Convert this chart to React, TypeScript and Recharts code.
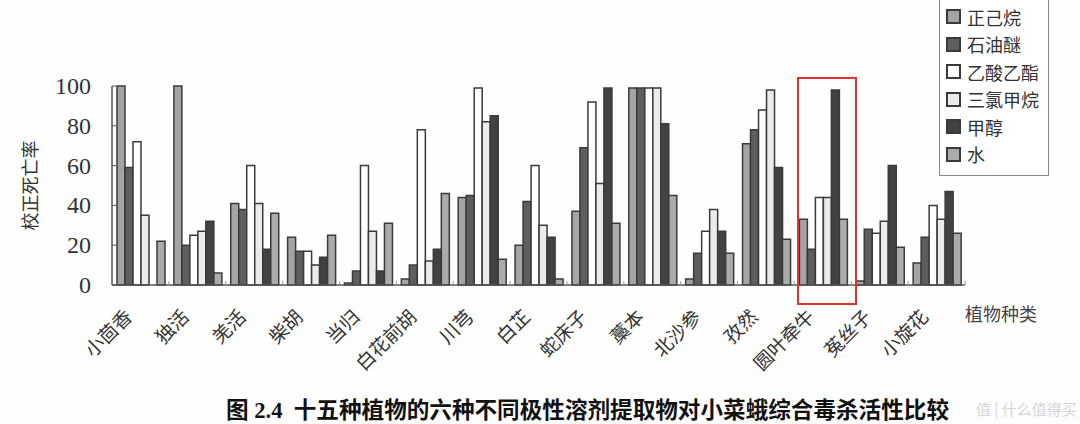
import { BarChart, Bar, XAxis, YAxis, Legend } from "recharts";

const plants = ["小茴香", "独活", "羌活", "柴胡", "当归", "白花前胡", "川芎", "白芷", "蛇床子", "藁本", "北沙参", "孜然", "圆叶牵牛", "菟丝子", "小旋花"];
const hexane = [100, 100, 41, 24, 1, 3, 44, 20, 37, 99, 3, 71, 33, 2, 11];
const petroleumEther = [59, 20, 38, 17, 7, 10, 45, 42, 69, 99, 16, 78, 18, 28, 24];
const ethylAcetate = [72, 25, 60, 17, 60, 78, 99, 60, 92, 99, 27, 88, 44, 26, 40];
const chloroform = [35, 27, 41, 10, 27, 12, 82, 30, 51, 99, 38, 98, 44, 32, 33];
const methanol = [0, 32, 18, 14, 7, 18, 85, 24, 99, 81, 27, 59, 98, 60, 47];
const water = [22, 6, 36, 25, 31, 46, 13, 3, 31, 45, 16, 23, 33, 19, 26];
const yTicks = [0, 20, 40, 60, 80, 100];

const data = plants.map((name, i) => ({
  name,
  正己烷: hexane[i],
  石油醚: petroleumEther[i],
  乙酸乙酯: ethylAcetate[i],
  三氯甲烷: chloroform[i],
  甲醇: methanol[i],
  水: water[i],
}));

const series = [
  { key: "正己烷", fill: "#a4a4a4" },
  { key: "石油醚", fill: "#5e5e5e" },
  { key: "乙酸乙酯", fill: "#ffffff" },
  { key: "三氯甲烷", fill: "#ebebeb" },
  { key: "甲醇", fill: "#424242" },
  { key: "水", fill: "#ababab" },
];
const seriesOrder = series.map((s) => s.key);

const W = 1080;
const H = 424;
const MARGIN = { top: 86, right: 115, left: 0, bottom: 0 };
const Y_W = 112;
const X_H = 139;
const BAND = (W - MARGIN.right - Y_W) / plants.length;

const FONT = "'Liberation Serif', 'Noto Sans CJK SC', serif";
const INK = "#333";

const PlantTick = ({ x, y, payload }: any) => {
  const ax = x - 7;
  const ay = y + 33;
  return (
    <g>
      <line x1={x + BAND / 2} x2={x + BAND / 2} y1={y} y2={y - 4} stroke="#999" strokeWidth={1} />
      <text x={ax} y={ay} transform={`rotate(-45 ${ax} ${ay})`} textAnchor="end" fontSize={19} fill={INK} fontFamily={FONT}>
        {payload.value}
      </text>
    </g>
  );
};

const ValueTick = ({ x, y, payload }: any) => (
  <g>
    <line x1={x + 21} x2={x + 25} y1={y} y2={y} stroke="#555" strokeWidth={1} />
    <text x={x} y={y} dy={8} textAnchor="end" fontSize={24} fill={INK} fontFamily={FONT}>
      {payload.value}
    </text>
  </g>
);

const YTitle = ({ viewBox }: any) => {
  const cx = 31;
  const cy = viewBox.y + viewBox.height / 2;
  return (
    <text x={cx} y={cy} transform={`rotate(-90 ${cx} ${cy})`} textAnchor="middle" dominantBaseline="central" fontSize={18} fill={INK} fontFamily={FONT}>
      校正死亡率
    </text>
  );
};

const LegendBox = ({ payload }: any) => {
  const items = [...(payload || [])].sort((a: any, b: any) => seriesOrder.indexOf(a.value) - seriesOrder.indexOf(b.value));
  return (
    <div style={{ border: "1px solid #888", background: "#fff", padding: "4px 0 0 6px", width: 102, height: 172 }}>
      {items.map((entry: any) => (
        <div key={entry.value} style={{ display: "flex", alignItems: "center", height: 27.5, fontSize: 18, color: INK, fontFamily: FONT }}>
          <span style={{ display: "inline-block", width: 11, height: 11, background: entry.color, border: "2px solid #3a3a3a", marginRight: 6 }} />
          {entry.value}
        </div>
      ))}
    </div>
  );
};

export default function App() {
  return (
    <div style={{ position: "absolute", left: 0, top: 0, width: W, height: H, background: "#fefefe", overflow: "hidden" }}>
      <BarChart width={W} height={H} data={data} margin={MARGIN} barCategoryGap={5} barGap={0}>
        <XAxis
          dataKey="name"
          height={X_H}
          interval={0}
          tickLine={false}
          tickSize={0}
          tickMargin={0}
          tick={<PlantTick />}
          axisLine={{ stroke: "#555", strokeWidth: 1.5 }}
        />
        <YAxis
          width={Y_W}
          domain={[0, 100]}
          ticks={yTicks}
          tickLine={false}
          tickSize={0}
          tickMargin={21}
          tick={<ValueTick />}
          axisLine={{ stroke: "#555", strokeWidth: 1.5 }}
          label={{ content: YTitle }}
        />
        <Legend
          layout="vertical"
          align="center"
          verticalAlign="middle"
          content={<LegendBox />}
          wrapperStyle={{ position: "absolute", left: 939, top: -2, width: 110, height: 178 }}
        />
        {series.map((s) => (
          <Bar key={s.key} dataKey={s.key} fill={s.fill} stroke="#3a3a3a" strokeWidth={1.5} isAnimationActive={false} />
        ))}
      </BarChart>
      <div style={{ position: "absolute", left: 965, top: 300, fontSize: 18, color: "#444", fontFamily: FONT }}>植物种类</div>
      <div style={{ position: "absolute", left: 797, top: 77, width: 56, height: 224, border: "2px solid #e5302e" }} />
      <div style={{ position: "absolute", left: 226, top: 392, fontSize: 22.6, fontWeight: "bold", color: "#111", fontFamily: FONT, whiteSpace: "nowrap" }}>
        图 2.4&nbsp;&nbsp;十五种植物的六种不同极性溶剂提取物对小菜蛾综合毒杀活性比较
      </div>
      <div style={{ position: "absolute", left: 976, top: 398, fontSize: 15, color: "#d4d4d4", fontFamily: "'Noto Sans CJK SC', sans-serif", whiteSpace: "nowrap" }}>
        值 | 什么值得买
      </div>
    </div>
  );
}
